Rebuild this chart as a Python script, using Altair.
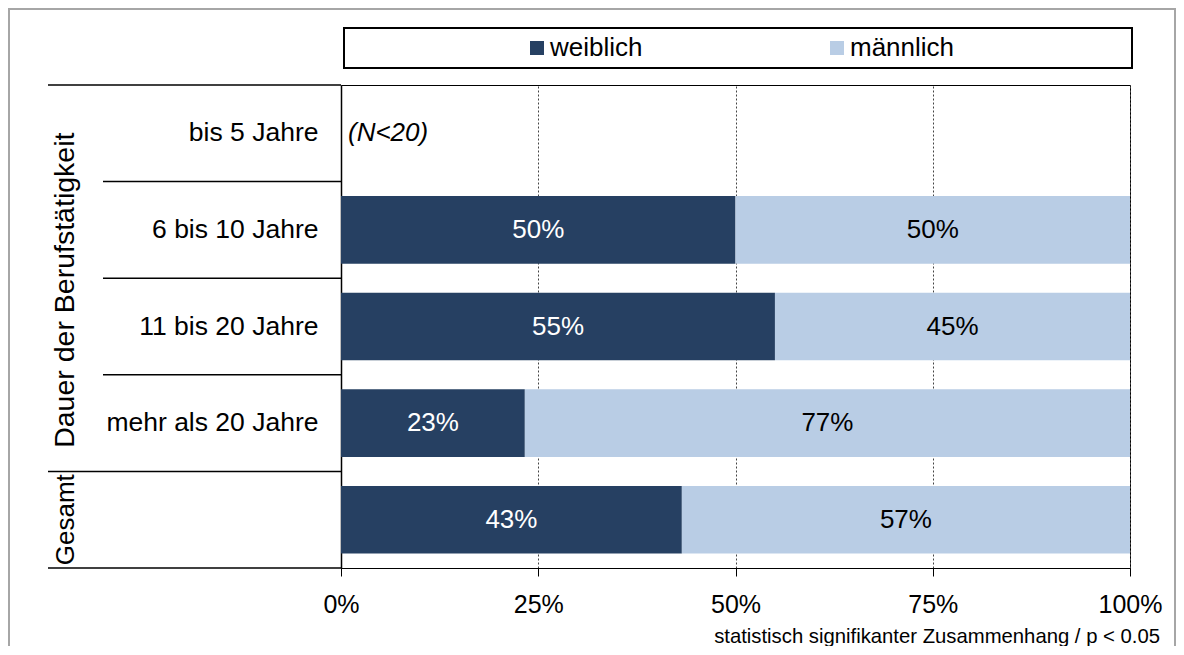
import altair as alt
import pandas as pd

categories = ["bis 5 Jahre", "6 bis 10 Jahre", "11 bis 20 Jahre", "mehr als 20 Jahre", "Gesamt"]
series = ["weiblich", "männlich"]
weiblich = [None, 50.0, 55.0, 23.3, 43.2]
maennlich = [None, 50.0, 45.0, 76.7, 56.8]
x_ticks = [0, 25, 50, 75, 100]
colors = ["#264062", "#b9cde5"]
note_cat = "bis 5 Jahre"
note_text = "(N<20)"
group_title = "Dauer der Berufstätigkeit"
total_title = "Gesamt"
footer = "statistisch signifikanter Zusammenhang / p < 0.05"

FONT = "Liberation Sans"

rows = []
for cat, w, m in zip(categories, weiblich, maennlich):
    if w is None:
        continue
    rows.append(dict(cat=cat, series="weiblich", start=0.0, end=w, mid=w / 2, label=f"{round(w)}%"))
    rows.append(dict(cat=cat, series="männlich", start=w, end=w + m, mid=w + m / 2, label=f"{round(m)}%"))
bars_df = pd.DataFrame(rows)

yscale = alt.Scale(domain=categories, paddingInner=0, paddingOuter=0)
y_enc = alt.Y(
    "cat:N",
    sort=categories,
    scale=yscale,
    axis=alt.Axis(
        title=None,
        ticks=False,
        grid=False,
        labelFontSize=26.5,
        labelPadding=23,
        labelLimit=400,
        labelColor="black",
        labelExpr="datum.value == 'Gesamt' ? '' : datum.value",
        domainColor="black",
        domainWidth=1.5,
    ),
)
x_enc = alt.X(
    "start:Q",
    scale=alt.Scale(domain=[0, 100]),
    axis=alt.Axis(
        title=None,
        values=x_ticks,
        labelExpr="datum.value + '%'",
        labelFontSize=25,
        labelColor="black",
        labelFlush=False,
        tickSize=8,
        tickColor="black",
        labelPadding=16,
        grid=True,
        gridDash=[2, 2],
        gridColor="#444444",
        domainColor="black",
    ),
)

bars = alt.Chart(bars_df).mark_bar(height={"band": 0.7}).encode(
    x=x_enc,
    x2="end:Q",
    y=y_enc,
    color=alt.Color(
        "series:N",
        scale=alt.Scale(domain=series, range=colors),
        legend=alt.Legend(
            title=None,
            orient="none",
            legendX=183,
            legendY=-50,
            direction="horizontal",
            symbolType="square",
            symbolSize=196,
            symbolStrokeWidth=0,
            labelFontSize=26,
            labelFont=FONT,
            labelColor="black",
            labelOffset=0,
            columnPadding=181,
            padding=0,
        ),
    ),
)

labels = alt.Chart(bars_df).mark_text(fontSize=26, font=FONT).encode(
    x="mid:Q",
    y=alt.Y("cat:N", sort=categories),
    text="label:N",
    color=alt.condition(alt.datum.series == "weiblich", alt.value("white"), alt.value("black")),
)

note_df = pd.DataFrame({"cat": [note_cat], "x": [0.0], "t": [note_text]})
note = alt.Chart(note_df).mark_text(align="left", dx=7, fontSize=26, fontStyle="italic", font=FONT, color="black").encode(
    x="x:Q", y=alt.Y("cat:N", sort=categories), text="t:N"
)

sep_full = alt.Chart(pd.DataFrame({"cat": [categories[0], categories[4]]})).mark_rule(color="black", strokeWidth=1.5).encode(
    y=alt.Y("cat:N", sort=categories, bandPosition=0), x=alt.value(-293), x2=alt.value(0)
)
sep_short = alt.Chart(pd.DataFrame({"cat": categories[1:4]})).mark_rule(color="black", strokeWidth=1.5).encode(
    y=alt.Y("cat:N", sort=categories, bandPosition=0), x=alt.value(-238), x2=alt.value(0)
)
sep_end = alt.Chart(pd.DataFrame({"cat": [categories[4]]})).mark_rule(color="black", strokeWidth=1.5).encode(
    y=alt.Y("cat:N", sort=categories, bandPosition=1), x=alt.value(-293), x2=alt.value(0)
)

grp = alt.Chart(pd.DataFrame({"cat": [categories[2]], "t": [group_title]})).mark_text(
    angle=270, align="center", baseline="alphabetic", fontSize=28.5, font=FONT, color="black", dx=-12
).encode(y=alt.Y("cat:N", sort=categories, bandPosition=0), x=alt.value(-267), text="t:N")

tot = alt.Chart(pd.DataFrame({"cat": [categories[4]], "t": [total_title]})).mark_text(
    angle=270, align="center", baseline="alphabetic", fontSize=26, font=FONT, color="black"
).encode(y=alt.Y("cat:N", sort=categories), x=alt.value(-267), text="t:N")

one = pd.DataFrame({"k": [0]})
legend_box = alt.Chart(one).mark_rect(fillOpacity=0, stroke="black", strokeWidth=2).encode(
    x=alt.value(3), x2=alt.value(791), y=alt.value(-57), y2=alt.value(-17)
)
frame = alt.Chart(one).mark_rect(fillOpacity=0, stroke="#a6a6a6", strokeWidth=2).encode(
    x=alt.value(-332), x2=alt.value(834), y=alt.value(-76), y2=alt.value(700)
)
foot = alt.Chart(one).mark_text(align="right", baseline="alphabetic", fontSize=20.3, font=FONT, color="black").encode(
    x=alt.value(819), y=alt.value(558), text=alt.value(footer)
)

chart = alt.layer(
    frame, legend_box, bars, labels, note, sep_full, sep_short, sep_end, grp, tot, foot
).properties(
    width=789,
    height=483,
    autosize=alt.AutoSizeParams(type="none"),
    padding={"left": 333, "top": 77, "right": 46, "bottom": 78},
    background="white",
).configure_view(
    stroke="black", strokeWidth=1
).configure_axis(
    labelFont=FONT
)

chart.save("out.html", embed_options={"renderer": "svg", "actions": False})
